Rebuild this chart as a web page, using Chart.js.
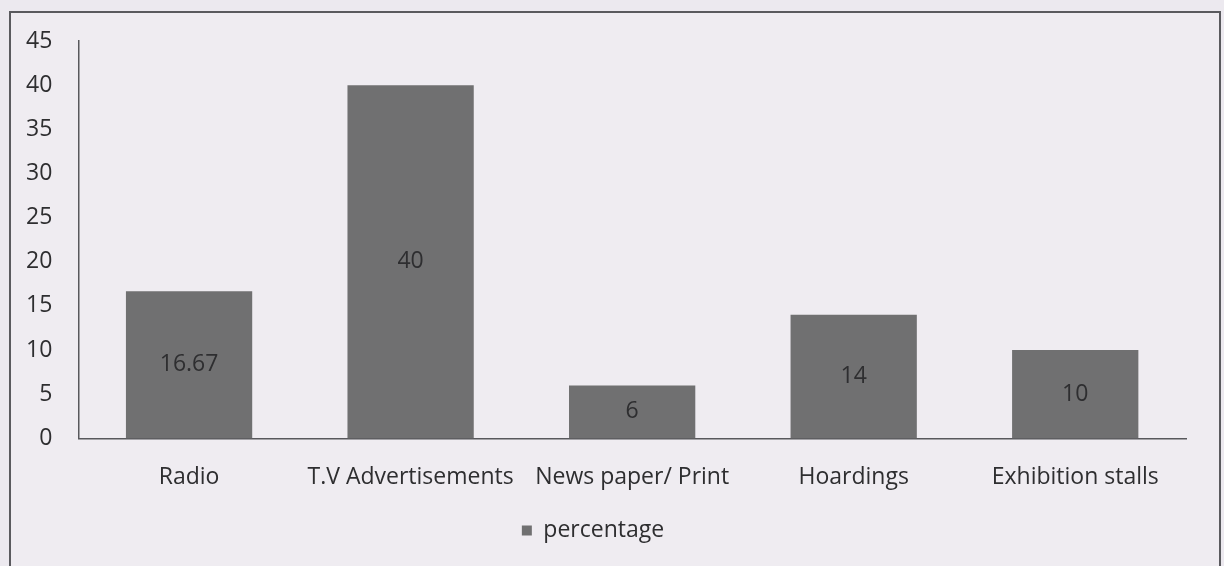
<!DOCTYPE html>
<html>
<head>
<meta charset="utf-8">
<script src="https://cdn.jsdelivr.net/npm/chart.js@4.4.0/dist/chart.umd.min.js"></script>
<style>
  body { margin: 0; background: #ece9ef; }
  #frame {
    position: absolute; left: 9px; top: 11px; width: 1208px; height: 600px;
    border: 2px solid #5a5a5e; border-bottom: none; background: #efecf1;
  }
  #wrap { position: absolute; left: 0; top: 0; width: 1224px; height: 566px; }
</style>
</head>
<body>
<div id="frame"></div>
<div id="wrap"><canvas id="chartMidia"></canvas></div>
<script>
var categorias = ['Radio', 'T.V Advertisements', 'News paper/ Print', 'Hoardings', 'Exhibition stalls'];
var percentagens = [16.67, 40, 6, 14, 10];
var rotuloValor = ['16.67', '40', '6', '14', '10'];

var fonte = '"Open Sans", sans-serif';
var tamanho = 23;

// escreve o valor no meio de cada barra
var rotulosNasBarras = {
    id: 'rotulosNasBarras',
    afterDatasetsDraw: function (chart) {
        var ctx = chart.ctx;
        var meta = chart.getDatasetMeta(0);
        ctx.save();
        ctx.font = tamanho + 'px ' + fonte;
        ctx.fillStyle = '#2e2e30';
        ctx.textAlign = 'center';
        ctx.textBaseline = 'middle';
        meta.data.forEach(function (barra, i) {
            var meio = (barra.y + barra.base) / 2;
            ctx.fillText(rotuloValor[i], barra.x, meio);
        });
        ctx.restore();
    }
};

var ctxMidia = document.getElementById('chartMidia');

new Chart(ctxMidia, {
    type: 'bar',
    data: {
        labels: categorias,
        datasets: [{
            label: 'percentage',
            data: percentagens,
            backgroundColor: '#707071',
            categoryPercentage: 1,
            barPercentage: 0.57
        }]
    },
    options: {
        responsive: true,
        maintainAspectRatio: false,
        animation: false,
        layout: {
            padding: { left: 0, right: 38, top: 41, bottom: 14 }
        },
        plugins: {
            legend: {
                position: 'bottom',
                labels: {
                    boxWidth: 10,
                    boxHeight: 10,
                    padding: 3,
                    color: '#2e2e30',
                    font: { family: fonte, size: tamanho }
                }
            },
            tooltip: { enabled: false }
        },
        scales: {
            x: {
                grid: { display: false, drawTicks: false },
                border: { color: '#58585c', width: 1.5 },
                ticks: {
                    color: '#2e2e30',
                    padding: 25,
                    maxRotation: 0,
                    font: { family: fonte, size: tamanho }
                }
            },
            y: {
                min: 0,
                max: 45,
                grid: { display: false, drawTicks: false },
                border: { color: '#58585c', width: 1.5 },
                ticks: {
                    stepSize: 5,
                    color: '#2e2e30',
                    padding: 26,
                    font: { family: fonte, size: tamanho }
                }
            }
        }
    },
    plugins: [rotulosNasBarras]
});
</script>
</body>
</html>
